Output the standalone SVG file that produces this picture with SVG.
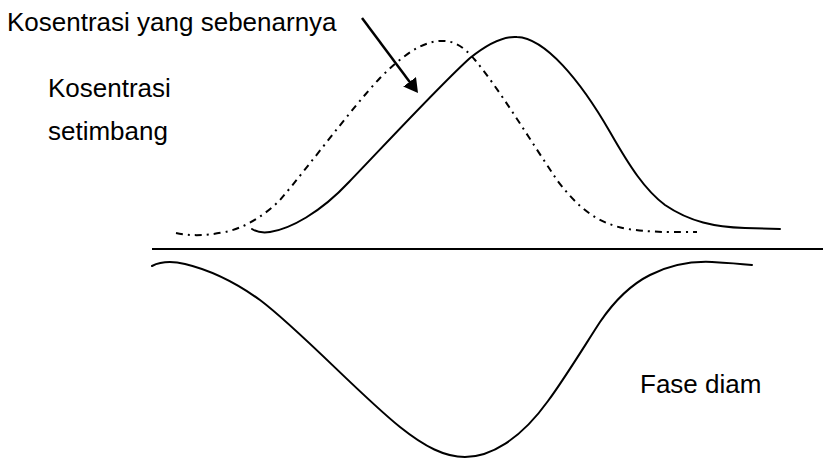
<svg xmlns="http://www.w3.org/2000/svg" width="829" height="459" viewBox="0 0 829 459">
  <style>
    .lbl { font-family: "Liberation Sans", Arial, sans-serif; font-size: 26px; fill: #000; }
    .curve { fill: none; stroke: #000; stroke-width: 2; stroke-linecap: round; stroke-linejoin: round; }
    .dashdot { fill: none; stroke: #000; stroke-width: 2; stroke-dasharray: 7 5 2 5; }
    .axis { stroke: #000; stroke-width: 2; }
  </style>
  <defs>
    <marker id="arrowhead" markerUnits="userSpaceOnUse" markerWidth="14" markerHeight="16" viewBox="0 0 14 16" refX="4" refY="8" orient="auto">
      <path d="M0,0 L14,8 L0,16 z" fill="#000"/>
    </marker>
  </defs>
  <rect width="829" height="459" fill="#fff"/>

  <g id="labels">
    <text class="lbl" x="7" y="31">Kosentrasi yang sebenarnya</text>
    <text class="lbl" x="48" y="97">Kosentrasi</text>
    <text class="lbl" x="48" y="140">setimbang</text>
    <text class="lbl" x="640" y="393">Fase diam</text>
  </g>

  <g id="baseline">
    <line class="axis" x1="152" y1="249" x2="823" y2="249"/>
  </g>

  <g id="equilibrium-curve">
    <path class="dashdot" d="M176,233 C190,236 205,236 225,232 C245,228 265,215 280,200 C310,165 350,110 380,78 C400,58 420,42 440,41 C455,40 465,48 475,60 C500,90 530,140 557,180 C578,208 598,224 628,229 C655,233 680,232 697,232"/>
  </g>

  <g id="actual-curve">
    <path class="curve" d="M252,229 C258,233 263,233 270,232 C290,229 320,213 349,182 C380,150 440,85 470,58 C490,42 505,36 517,37 C545,38 580,80 610,132 C630,167 645,190 665,205 C690,222 715,227 745,228 L780,229"/>
  </g>

  <g id="stationary-phase-curve">
    <path class="curve" d="M152,266 C160,262 172,261 185,264 C210,270 235,282 260,300 C300,330 360,395 400,427 C425,447 445,457 465,457 C490,457 520,440 548,401 C565,378 585,345 600,322 C615,300 630,285 650,275 C670,265 690,261 712,262 C730,263 742,264 752,265"/>
  </g>

  <g id="connectors">
    <line x1="362" y1="18" x2="412" y2="85" stroke="#000" stroke-width="2.5" marker-end="url(#arrowhead)"/>
  </g>
</svg>
